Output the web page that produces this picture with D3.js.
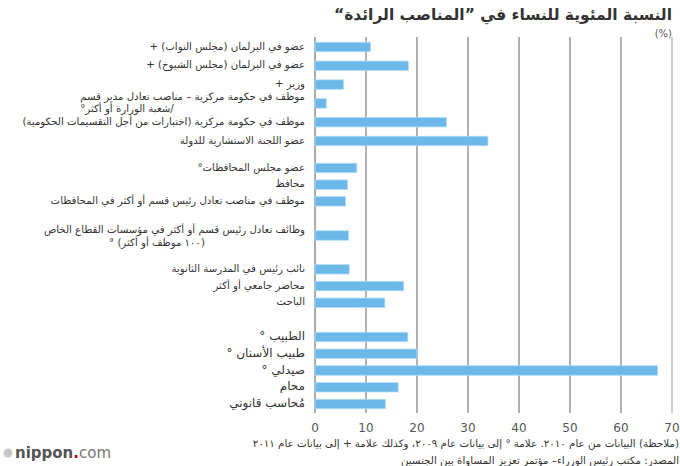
<!DOCTYPE html>
<html><head><meta charset="utf-8">
<script src="https://cdn.jsdelivr.net/npm/d3@7/dist/d3.min.js"></script>
<style>
html,body{margin:0;padding:0;background:#fff;}
svg{display:block;}
text{font-family:"DejaVu Sans",sans-serif;}
</style></head>
<body>
<svg id="c" width="680" height="466"></svg>
<script>
// ---- data ----
const titleText = "النسبة المئوية للنساء في ”المناصب الرائدة“";
const unitText = "(%)";
const group1 = ["عضو في البرلمان (مجلس النواب) +", "عضو في البرلمان (مجلس الشيوخ) +", "وزير +", "موظف في حكومة مركزية – مناصب تعادل مدير قسم|/شعبة الوزارة أو أكثر°", "موظف في حكومة مركزية (اختبارات من أجل التقسيمات الحكومية)", "عضو اللجنة الاستشارية للدولة"];
const values1 = [10.9, 18.3, 5.6, 2.2, 25.8, 33.9];
const group2 = ["عضو  مجلس المحافظات°", "محافظ", "موظف في مناصب تعادل  رئيس قسم أو أكثر في المحافظات"];
const values2 = [8.2, 6.4, 6.0];
const group3 = ["وظائف تعادل رئيس قسم أو أكثر في مؤسسات القطاع الخاص|(١٠٠ موظف أو أكثر) °"];
const values3 = [6.6];
const group4 = ["نائب رئيس في المدرسة الثانوية", "محاضر جامعي أو أكثر", "الباحث"];
const values4 = [6.7, 17.4, 13.7];
const group5 = ["الطبيب °", "طبيب الأسنان °", "صيدلي °", "محام", "مُحاسب قانوني"];
const values5 = [18.2, 20.0, 67.2, 16.3, 13.8];
const xTicks = [0, 10, 20, 30, 40, 50, 60, 70];
const note1 = "(ملاحظة) البيانات من عام ٢٠١٠. علامة ° إلى بيانات عام ٢٠٠٩، وكذلك علامة + إلى بيانات عام ٢٠١١";
const note2 = "المصدر: مكتب رئيس الوزراء– مؤتمر تعزيز المساواة بين الجنسين";

// ---- layout ----
const svg = d3.select("#c");
const x = d3.scaleLinear().domain([0, 70]).range([315, 672]);
const labelX = 305;
const gridTop = 37, gridBottom = 413;
const barH = 9.5;
const groups = [
  {cats: group1, vals: values1, range: [47, 141], fs: 10.2},
  {cats: group2, vals: values2, range: [168, 201.3], fs: 10.2},
  {cats: group3, vals: values3, range: [235.5, 235.5], fs: 10.2, line2Shift: 100},
  {cats: group4, vals: values4, range: [269.3, 302.8], fs: 10.2},
  {cats: group5, vals: values5, range: [337, 404], fs: 12}
];

// title
svg.append("text").attr("x", 672).attr("y", 20).attr("direction", "rtl")
  .attr("text-anchor", "start").attr("font-size", 15.5).attr("font-weight", "bold")
  .attr("fill", "#333").text(titleText);
svg.append("text").attr("x", 672).attr("y", 37).attr("text-anchor", "end")
  .attr("font-size", 10).attr("fill", "#555").attr("font-family", "Liberation Serif").text(unitText);

// grid
svg.append("g").selectAll("line").data(xTicks).join("line")
  .attr("x1", d => x(d)).attr("x2", d => x(d))
  .attr("y1", gridTop).attr("y2", gridBottom)
  .attr("stroke", d => (d === 0 || d === 70) ? "#aaaaaa" : "#7d7d7d")
  .attr("stroke-width", d => d === 0 ? 2 : 1.2);

// tick labels
svg.append("g").selectAll("text").data(xTicks).join("text")
  .attr("x", d => x(d)).attr("y", 432).attr("text-anchor", "middle")
  .attr("font-family", "Liberation Serif, serif").attr("font-size", 12).attr("fill", "#555")
  .text(d => d);

// bars and labels
groups.forEach(g => {
  const y = d3.scalePoint().domain(g.cats).range(g.range);
  const data = g.cats.map((c, i) => ({c, v: g.vals[i]}));
  svg.append("g").selectAll("rect").data(data).join("rect")
    .attr("x", x(0)).attr("y", d => y(d.c) - barH / 2)
    .attr("width", d => x(d.v) - x(0)).attr("height", barH)
    .attr("fill", "#6cb9e9").attr("stroke", "#b3dcf5").attr("stroke-width", 0.8);
  const lab = svg.append("g").selectAll("g").data(data).join("g");
  lab.each(function(d) {
    const parts = d.c.split("|");
    const sel = d3.select(this);
    if (parts.length === 1) {
      sel.append("text").attr("x", labelX).attr("y", y(d.c) - 1).attr("dy", "0.35em")
        .attr("direction", "rtl").attr("text-anchor", "start")
        .attr("font-size", g.fs).attr("fill", "#333").text(parts[0]);
    } else {
      const t1 = sel.append("text").attr("x", labelX).attr("y", y(d.c) - 6.5).attr("dy", "0.35em")
        .attr("direction", "rtl").attr("text-anchor", "start")
        .attr("font-size", g.fs).attr("fill", "#333").text(parts[0]);
      const w = t1.node().getComputedTextLength();
      if (g.line2Shift) {
        sel.append("text").attr("x", labelX - g.line2Shift).attr("y", y(d.c) + 7).attr("dy", "0.35em")
          .attr("direction", "rtl").attr("text-anchor", "start")
          .attr("font-size", g.fs).attr("fill", "#333").text(parts[1]);
      } else {
        sel.append("text").attr("x", labelX - w).attr("y", y(d.c) + 5.5).attr("dy", "0.35em")
          .attr("direction", "rtl").attr("text-anchor", "end")
          .attr("font-size", g.fs).attr("fill", "#333").text(parts[1]);
      }
    }
  });
});

// notes
svg.append("text").attr("x", 679).attr("y", 447).attr("direction", "rtl").attr("text-anchor", "start")
  .attr("font-size", 10.3).attr("fill", "#333").text(note1);
svg.append("text").attr("x", 679).attr("y", 463.5).attr("direction", "rtl").attr("text-anchor", "start")
  .attr("font-size", 10.3).attr("fill", "#333").text(note2);

// logo
const logo = svg.append("g");
logo.append("circle").attr("cx", 8).attr("cy", 453).attr("r", 4.5).attr("fill", "#c8c8c8");
const lt = logo.append("text").attr("x", 15).attr("y", 458).attr("font-family", "Open Sans, sans-serif").attr("font-size", 15);
lt.append("tspan").attr("font-weight", "bold").attr("fill", "#555").text("nippon");
lt.append("tspan").attr("font-weight", "bold").attr("fill", "#e60012").text(".");
lt.append("tspan").attr("fill", "#777").text("com");
</script>
</body></html>
